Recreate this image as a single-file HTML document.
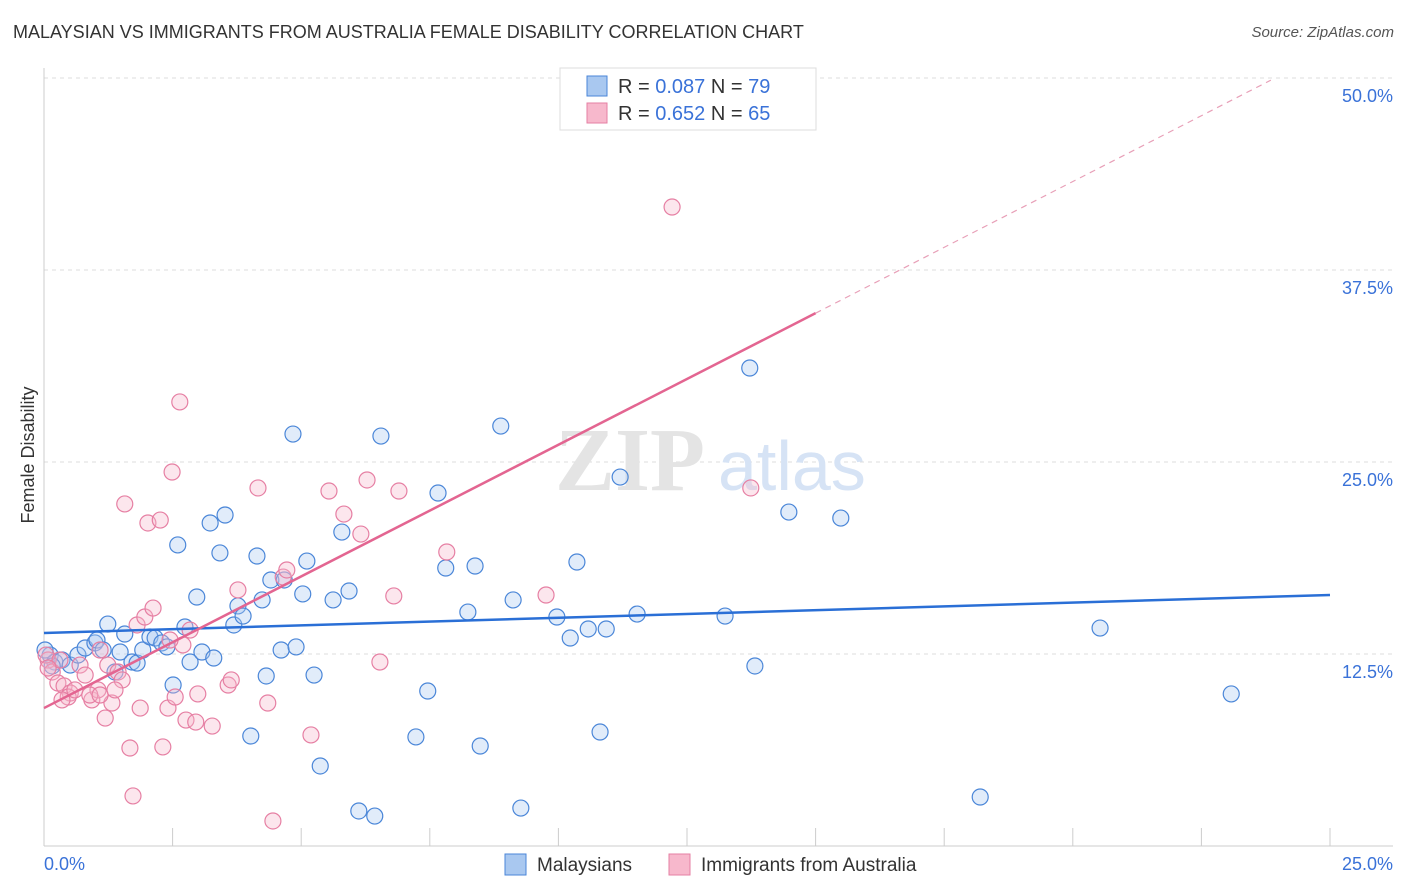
<!DOCTYPE html>
<html><head><meta charset="utf-8"><style>
body{margin:0;background:#fff;font-family:"Liberation Sans",sans-serif;}
#wrap{position:relative;width:1406px;height:892px;overflow:hidden;}
.t{position:absolute;white-space:nowrap;}
</style></head><body>
<div id="wrap">
<div class="t" style="left:13px;top:22px;font-size:18px;color:#333;">MALAYSIAN VS IMMIGRANTS FROM AUSTRALIA FEMALE DISABILITY CORRELATION CHART</div>
<div class="t" style="right:12px;top:24px;font-size:15px;color:#555;font-style:italic;">Source: ZipAtlas.com</div>
<svg id="svg" width="1406" height="892" style="position:absolute;left:0;top:0"></svg>
</div>
<script>
const xTicks=[0,2.5,5,7.5,10,12.5,15,17.5,20,22.5,25];
const yTicks=[12.5,25,37.5,50];
const yTickLabels=["12.5%","25.0%","37.5%","50.0%"];
const blueX=[0.12,0.21,0.35,0.51,0.66,0.80,0.99,1.03,1.15,1.24,1.38,1.48,1.57,1.71,1.81,1.92,2.06,2.16,2.29,2.39,2.51,2.60,2.74,2.84,2.97,3.07,3.23,3.30,3.42,3.52,3.69,3.77,3.87,4.02,4.14,4.24,4.32,4.41,4.61,4.67,4.84,4.90,5.03,5.11,5.25,5.37,5.62,5.79,5.93,6.12,6.43,6.55,7.46,7.23,7.66,7.81,8.24,8.38,8.48,8.88,9.12,9.27,9.97,10.23,10.36,10.58,10.81,10.93,11.20,11.53,13.24,13.72,13.82,14.48,15.49,18.20,20.53,23.08,0.02,0.16];
const blueY=[12.43,11.98,12.11,11.78,12.43,12.89,13.22,13.41,12.76,14.45,11.33,12.63,13.80,11.98,11.91,12.76,13.61,13.54,13.22,12.96,10.48,19.60,14.26,11.98,16.21,12.63,21.03,12.24,19.08,21.55,14.39,15.63,14.97,7.16,18.88,16.02,11.07,17.32,12.76,17.32,26.82,12.96,16.41,18.55,11.13,5.21,16.02,20.44,16.60,2.28,1.95,26.69,10.09,7.10,22.98,18.10,15.23,18.23,6.51,27.34,16.02,2.47,14.91,13.54,18.49,14.13,7.42,14.13,24.02,15.10,14.97,31.12,11.72,21.74,21.35,3.19,14.19,9.90,12.76,11.72];
const pinkX=[0.08,0.16,0.27,0.39,0.51,0.47,0.60,0.70,0.80,0.93,1.05,1.09,1.19,1.24,1.32,1.44,1.52,1.57,1.67,1.73,1.81,1.87,1.96,2.02,2.12,2.26,2.31,2.41,2.49,2.55,2.64,2.70,2.76,2.84,2.95,2.99,3.27,3.58,3.64,3.77,4.16,4.35,4.45,4.65,4.72,5.19,5.54,5.83,6.16,6.28,6.53,6.80,6.90,7.83,9.76,12.21,13.74,0.04,0.31,0.89,1.38,2.45,0.08,0.35,1.09];
const pinkY=[12.11,11.33,10.61,10.42,9.96,9.70,10.16,11.78,11.13,9.51,10.16,12.76,8.33,11.78,9.31,11.33,10.81,22.27,6.38,3.26,14.39,8.98,14.91,21.03,15.49,21.22,6.45,8.98,24.35,9.70,28.91,13.09,8.20,14.06,8.07,9.90,7.81,10.48,10.81,16.67,23.31,9.31,1.63,17.51,17.97,7.23,23.11,21.61,20.31,23.83,11.98,16.28,23.11,19.14,16.34,41.60,23.31,12.43,12.11,9.83,10.16,13.41,11.59,9.51,9.83];
const blueFit=[13.87,0.0988];
const pinkFit=[8.98,1.714];

const NS="http://www.w3.org/2000/svg";
const svg=document.getElementById('svg');
const X=v=>44+v/25*1286;
const Y=v=>846-v/12.5*192;
function mk(tag,at,parent){const e=document.createElementNS(NS,tag);for(const k in at)e.setAttribute(k,at[k]);(parent||svg).appendChild(e);return e;}
// grid
yTicks.forEach((v,i)=>{
 const g=mk('line',{x1:44,x2:1393,y1:Y(v),y2:Y(v),stroke:'#ddd','stroke-dasharray':'4,4'});
 
 
 const t=mk('text',{x:1393,y:Y(v)+24,'text-anchor':'end','font-size':18,fill:'#3a72d8','font-family':'Liberation Sans, sans-serif'});
 t.textContent=yTickLabels[i];
 
 
});
const ax=mk('line',{x1:44,x2:1393,y1:846,y2:846,stroke:'#ccc'});


const ay=mk('line',{x1:44,x2:44,y1:68,y2:846,stroke:'#ccc'});


xTicks.forEach(v=>{
 const l=mk('line',{x1:X(v),x2:X(v),y1:828,y2:846,stroke:'#ccc'});
 
 
});
[[0,'0.0%',44,'start'],[25,'25.0%',1393,'end']].forEach(a=>{
 const t=mk('text',{x:a[2],y:870,'text-anchor':a[3],'font-size':18,fill:'#3a72d8','font-family':'Liberation Sans, sans-serif'});
 t.textContent=a[1];
 
 
});
const yt=mk('text',{x:34,y:455,'text-anchor':'middle','font-size':18,fill:'#333',transform:'rotate(-90 34 455)','font-family':'Liberation Sans, sans-serif'});
yt.textContent='Female Disability';


// watermark
const wm=mk('text',{x:555,y:490,'font-size':90,fill:'#e4e4e4','font-family':'Liberation Serif, serif','font-weight':'bold'});
wm.textContent='ZIP';


const wm2=mk('text',{x:718,y:490,'font-size':70,fill:'#d6e3f5','font-family':'Liberation Sans, sans-serif'});
wm2.textContent='atlas';


// points
function pts(xs,ys,fill,stroke,name){xs.forEach((x,i)=>{
 const c=mk('circle',{cx:X(x),cy:Y(ys[i]),r:8,fill:fill,'fill-opacity':0.35,stroke:stroke,'stroke-width':1.2});
 
 
});}
pts(blueX,blueY,'#a9c8f0','#4a86d8','malaysian-point');
pts(pinkX,pinkY,'#f7b8cc','#e67fa3','australia-point');
// fits
const bl=mk('line',{x1:X(0),y1:Y(blueFit[0]),x2:X(25),y2:Y(blueFit[0]+blueFit[1]*25),stroke:'#2a6fd6','stroke-width':2.5});


const pl=mk('line',{x1:X(0),y1:Y(pinkFit[0]),x2:X(15),y2:Y(pinkFit[0]+pinkFit[1]*15),stroke:'#e36591','stroke-width':2.5});


const pd=mk('line',{x1:X(15),y1:Y(pinkFit[0]+pinkFit[1]*15),x2:X(23.85),y2:Y(pinkFit[0]+pinkFit[1]*23.85),stroke:'#e8a0b8','stroke-width':1.2,'stroke-dasharray':'6,5'});


// legend box
const lb=mk('rect',{x:560,y:68,width:256,height:62,fill:'#fff',stroke:'#ddd'});


[[86,'#a9c8f0','#4a86d8','0.087','79'],[113,'#f7b8cc','#e67fa3','0.652','65']].forEach(r=>{
 const s=mk('rect',{x:587,y:r[0]-10,width:20,height:20,fill:r[1],stroke:r[2]});
 
 
 const t=mk('text',{x:618,y:r[0]+7,'font-size':20,fill:'#333','font-family':'Liberation Sans, sans-serif'});
 t.innerHTML='R = <tspan fill="#3a72d8">'+r[3]+'</tspan>   N = <tspan fill="#3a72d8">'+r[4]+'</tspan>';
 t.setAttribute('xml:space','preserve');
 
 
});
// bottom legend
[[505,'#a9c8f0','#4a86d8','Malaysians',537],[669,'#f7b8cc','#e67fa3','Immigrants from Australia',701]].forEach(r=>{
 const s=mk('rect',{x:r[0],y:854,width:21,height:21,fill:r[1],stroke:r[2]});
 
 
 const t=mk('text',{x:r[4],y:871,'font-size':19,fill:'#333','font-family':'Liberation Sans, sans-serif'});
 t.textContent=r[3];
 
 
});
</script>
</body></html>
